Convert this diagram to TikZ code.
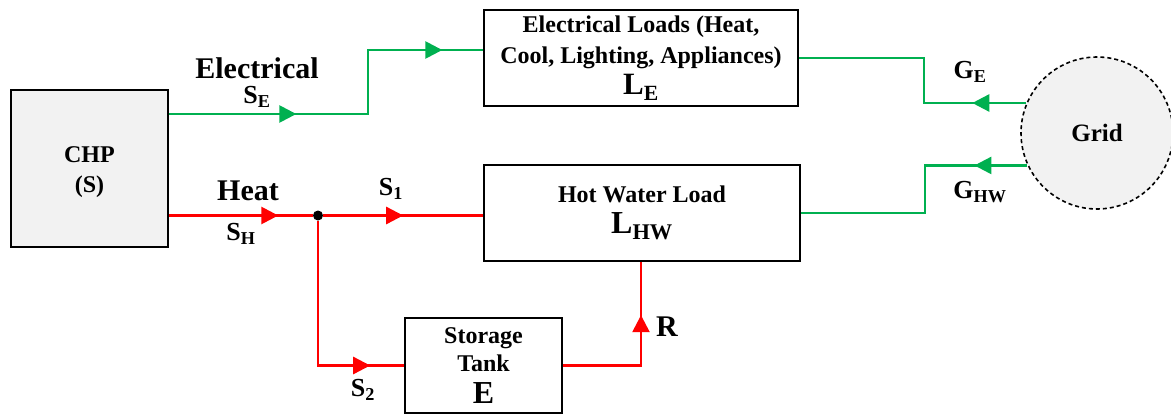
\documentclass[tikz,border=0pt]{standalone}
\usepackage{fontspec}
\setmainfont{Liberation Serif}
\usetikzlibrary{arrows.meta,decorations.markings,positioning}

\definecolor{elecgreen}{HTML}{00B050}
\definecolor{heatred}{HTML}{FF0000}
\definecolor{boxgray}{HTML}{F2F2F2}

\begin{document}
\begin{tikzpicture}[
        x=1pt, y=-1pt,
        block/.style={
            draw,
            line width=2.6pt,
            align=center,
            inner sep=0pt,
            font=\fontsize{24}{31}\selectfont\bfseries
        },
        elecflow/.style={color=elecgreen, line width=2.6pt},
        heatflow/.style={color=heatred, line width=2.6pt},
        arrowat/.style={
            postaction={decorate, decoration={markings,
                mark=at position #1 with {\arrow{Triangle[length=17pt,width=17pt]}}}}
        },
        biglbl/.style={font=\fontsize{30}{30}\selectfont\bfseries},
        flowlbl/.style={font=\fontsize{26}{26}\selectfont\bfseries}
    ]

    \useasboundingbox (0,0) rectangle (1171,415);

    % blocks
    \node[block, fill=boxgray, minimum width=157pt, minimum height=157pt,
          font=\fontsize{24}{30}\selectfont\bfseries]
        (chp) at (89.5,168.5) {\rule{0pt}{24pt}CHP\\(S)};

    \node[block, minimum width=314pt, minimum height=96pt]
        (eload) at (641,58) {Electrical Loads (Heat,\\
        Cool, Lighting, Appliances)\\
        {\fontsize{31}{31}\selectfont L\textsubscript{E}}};

    \node[block, minimum width=316pt, minimum height=96pt]
        (hwload) at (642,213) {Hot Water Load\\
        {\fontsize{32}{32}\selectfont L\textsubscript{HW}}};

    \node[block, minimum width=157pt, minimum height=95pt,
          font=\fontsize{24}{28}\selectfont\bfseries]
        (tank) at (483.5,365.5) {Storage\\Tank\\[4pt]
        {\fontsize{32}{32}\selectfont E}};

    \node[draw, circle, dash pattern=on 4pt off 3pt, line width=1.6pt, fill=boxgray,
          minimum size=152pt, inner sep=0pt,
          font=\fontsize{25}{25}\selectfont\bfseries]
        (grid) at (1097,133) {Grid};

    \node[circle, fill, inner sep=0pt, minimum size=10pt] (junct) at (318,215.5) {};

    \coordinate (ebend) at (368,80);
    \coordinate (gebend) at (924,80);
    \coordinate (ghbend) at (925,190);

    % electrical flows
    \draw[elecflow, arrowat=127pt, arrowat=337pt]
        ([yshift=54.5pt]chp.east) -| (ebend) |- ([yshift=8pt]eload.west);

    \draw[elecflow, arrowat=54pt]
        (grid.157) -| (gebend) |- (eload.east);

    \draw[elecflow, arrowat=53pt]
        (grid.205) -| (ghbend) |- (hwload.east);

    % heat flows
    \draw[heatflow, arrowat=109pt]
        (junct -| chp.east) -- (junct);

    \draw[heatflow, arrowat=80pt]
        (junct) -- (junct -| hwload.west);

    \draw[heatflow, arrowat=197pt]
        (junct) |- (tank.west);

    \draw[heatflow, arrowat=128pt]
        (tank.east) -| ([xshift=-1pt]hwload.south);

    % labels
    \node[biglbl] (elecl) at (257,68) {Electrical};
    \node[flowlbl] (sel) at (257,97) {S\textsubscript{E}};
    \node[biglbl] (heatl) at (248,191) {Heat};
    \node[flowlbl] (shl) at (241,234) {S\textsubscript{H}};
    \node[flowlbl] (s1l) at (391,189) {S\textsubscript{1}};
    \node[flowlbl] (s2l) at (363,390) {S\textsubscript{2}};
    \node[biglbl] (rl) at (667,327) {R};
    \node[flowlbl] (gel) at (970,72) {G\textsubscript{E}};
    \node[flowlbl] (ghwl) at (980,192) {G\textsubscript{HW}};

\end{tikzpicture}
\end{document}
